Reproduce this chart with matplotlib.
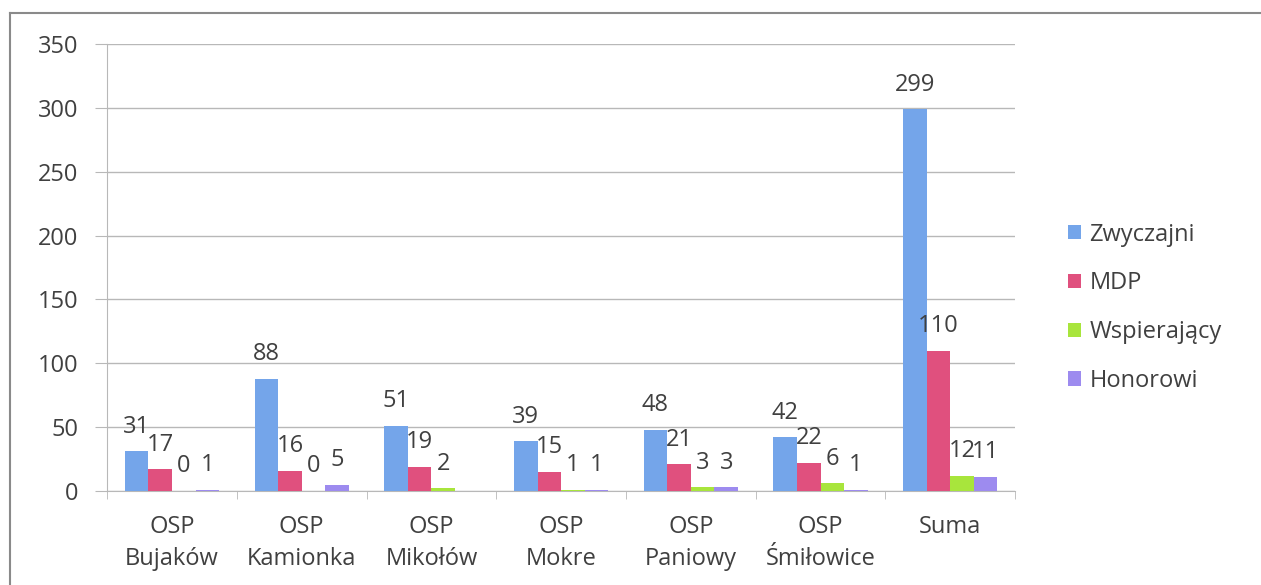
import matplotlib.pyplot as plt
from matplotlib.lines import Line2D
import numpy as np

plt.rcParams['font.family'] = ['Open Sans', 'DejaVu Sans']

categories = ['OSP\nBujaków', 'OSP\nKamionka', 'OSP\nMikołów', 'OSP\nMokre',
              'OSP\nPaniowy', 'OSP\nŚmiłowice', 'Suma']
series_names = ['Zwyczajni', 'MDP', 'Wspierający', 'Honorowi']
zwyczajni = [31, 88, 51, 39, 48, 42, 299]
mdp = [17, 16, 19, 15, 21, 22, 110]
wspierajacy = [0, 0, 2, 1, 3, 6, 12]
honorowi = [1, 5, 0, 1, 3, 1, 11]
# labels not shown in the original (series index, category index)
hidden_labels = [(3, 2)]

colors = ['#74a5ea', '#e0507e', '#a8e53c', '#9d8bef']
text_color = '#404040'
grid_color = '#b8b8b8'
fs = 17

fig = plt.figure(figsize=(12.61, 5.85), dpi=100)
ax = fig.add_axes([0.085, 0.1607, 0.72, 0.7641])

x = np.arange(len(categories))
width = 1 / 5.5
series = [zwyczajni, mdp, wspierajacy, honorowi]
for i, (name, vals) in enumerate(zip(series_names, series)):
    pos = x + (i - 1.5) * width
    ax.bar(pos, vals, width, color=colors[i], label=name, zorder=3)
    for j, (p, v) in enumerate(zip(pos, vals)):
        if (i, j) in hidden_labels:
            continue
        ax.annotate(str(v), (p, v), xytext=(0, 9), textcoords='offset points',
                    ha='center', va='bottom', fontsize=fs, color=text_color, zorder=4)

ax.set_xlim(-0.5, len(categories) - 0.5)
ax.set_ylim(0, 350)
ax.set_yticks(range(0, 351, 50))
ax.yaxis.grid(True, color=grid_color, lw=1, zorder=0)

ax.set_xticks(x)
ax.set_xticklabels(categories, fontsize=fs, color=text_color, linespacing=1.45)
ax.set_xticks(np.arange(-0.5, len(categories), 1), minor=True)
ax.tick_params(axis='x', which='major', length=0, pad=17)
ax.tick_params(axis='x', which='minor', length=6, color=grid_color)
ax.tick_params(axis='y', length=9, color=grid_color, labelsize=fs,
               labelcolor=text_color, pad=12)

for s in ['top', 'right']:
    ax.spines[s].set_visible(False)
for s in ['left', 'bottom']:
    ax.spines[s].set_color(grid_color)

ax.legend(loc='center left', bbox_to_anchor=(1.035, 0.41), frameon=False,
          fontsize=fs, labelcolor=text_color, handlelength=0.55, handleheight=0.55,
          handletextpad=0.35, labelspacing=1.05)

# outer chart border (top and left visible in the scan)
fig.add_artist(Line2D([0.008, 1.0], [0.977, 0.977], color='#8a8a8a', lw=1.5))
fig.add_artist(Line2D([0.008, 0.008], [0.0, 0.977], color='#8a8a8a', lw=1.5))

fig.savefig('out.png', dpi=100, facecolor='white')
